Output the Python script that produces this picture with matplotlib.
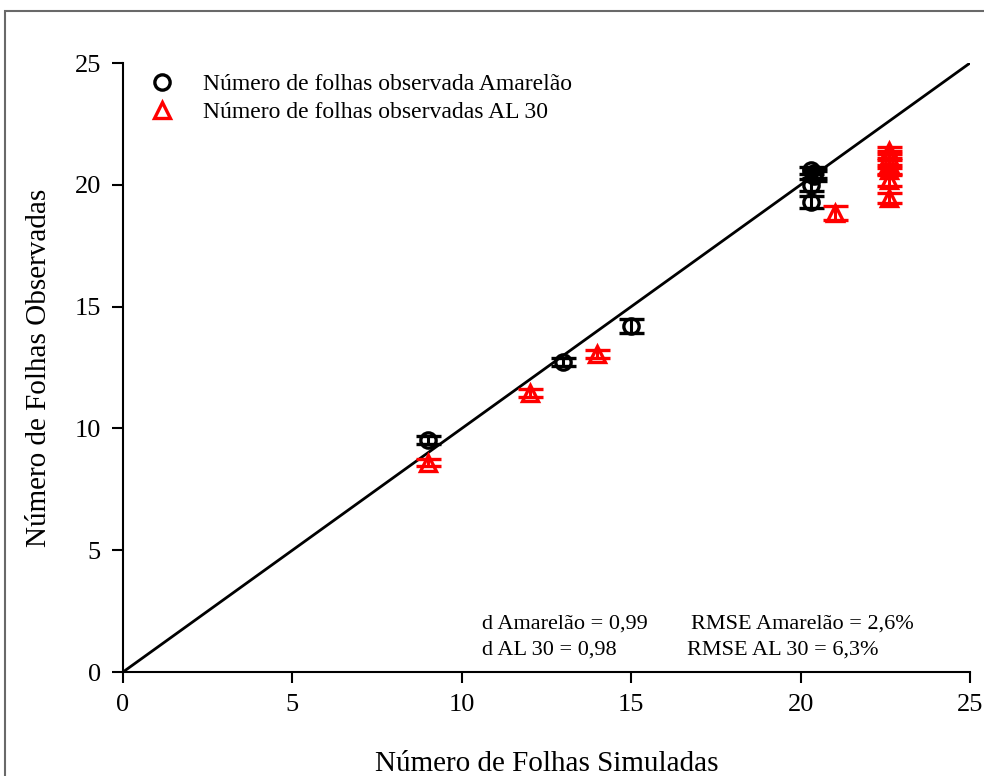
import numpy as np
import matplotlib.pyplot as plt
from matplotlib.patches import Rectangle

plt.rcParams['font.family'] = ['Liberation Serif', 'DejaVu Serif']

# Amarelão (círculos pretos)
sim_am = [9.0, 13.0, 15.0, 20.3, 20.3, 20.4, 20.4, 20.3]
obs_am = [9.52, 12.73, 14.2, 19.3, 20.0, 20.35, 20.5, 20.6]
err_am = [0.15, 0.15, 0.3, 0.25, 0.25, 0.2, 0.2, 0.15]

# AL 30 (triângulos vermelhos)
sim_al = [9.0, 12.0, 14.0, 21.0, 22.6, 22.6, 22.6, 22.6, 22.6, 22.6]
obs_al = [8.6, 11.45, 13.05, 18.85, 19.45, 20.2, 20.6, 20.9, 21.2, 21.4]
err_al = [0.15, 0.15, 0.15, 0.3, 0.2, 0.25, 0.2, 0.2, 0.2, 0.15]

fig = plt.figure(figsize=(9.84, 7.76), dpi=100)
ax = fig.add_axes([0.125, 0.134, 0.8608, 0.7848])

# linha 1:1
ax.plot([0, 25], [0, 25], '-k', linewidth=2)

ax.errorbar(sim_am, obs_am, yerr=err_am, fmt='o', mfc='none', mec='black',
            mew=2.4, ms=11, ecolor='black', elinewidth=2.2, capsize=9, capthick=2.2,
            label='Número de folhas observada Amarelão')
ax.errorbar(sim_al, obs_al, yerr=err_al, fmt='^', mfc='none', mec='red',
            mew=2.4, ms=11, ecolor='red', elinewidth=2.2, capsize=9, capthick=2.2,
            label='Número de folhas observadas AL 30')

ax.set_xlim(0, 25)
ax.set_ylim(0, 25)
ax.set_xticks(np.arange(0, 26, 5))
ax.set_yticks(np.arange(0, 26, 5))
ax.spines['top'].set_visible(False)
ax.spines['right'].set_visible(False)
ax.spines['left'].set_linewidth(1.5)
ax.spines['bottom'].set_linewidth(1.5)
ax.tick_params(direction='out', length=8, width=1.5, labelsize=19, pad=8)

ax.set_xlabel('Número de Folhas Simuladas', fontsize=21, labelpad=25)
ax.set_ylabel('Número de Folhas Observadas', fontsize=21, labelpad=16)

h, l = ax.get_legend_handles_labels()
h = [hh[0] for hh in h]
ax.legend(h, l, loc='upper left', bbox_to_anchor=(0.0, 1.018), frameon=False,
          fontsize=17, handletextpad=1.0, handlelength=1.5, labelspacing=0.3)

ax.text(0.424, 0.072, 'd Amarelão = 0,99', transform=ax.transAxes, fontsize=16)
ax.text(0.67, 0.072, 'RMSE Amarelão = 2,6%', transform=ax.transAxes, fontsize=16)
ax.text(0.424, 0.029, 'd AL 30 = 0,98', transform=ax.transAxes, fontsize=16)
ax.text(0.666, 0.029, 'RMSE AL 30 = 6,3%', transform=ax.transAxes, fontsize=16)

# moldura
fig.patches.append(Rectangle((5/984, -0.1), 1.2, 1 - 11/776 + 0.1,
                             transform=fig.transFigure, fill=False,
                             edgecolor='dimgray', linewidth=1.5))

plt.savefig('out.png', dpi=100)
